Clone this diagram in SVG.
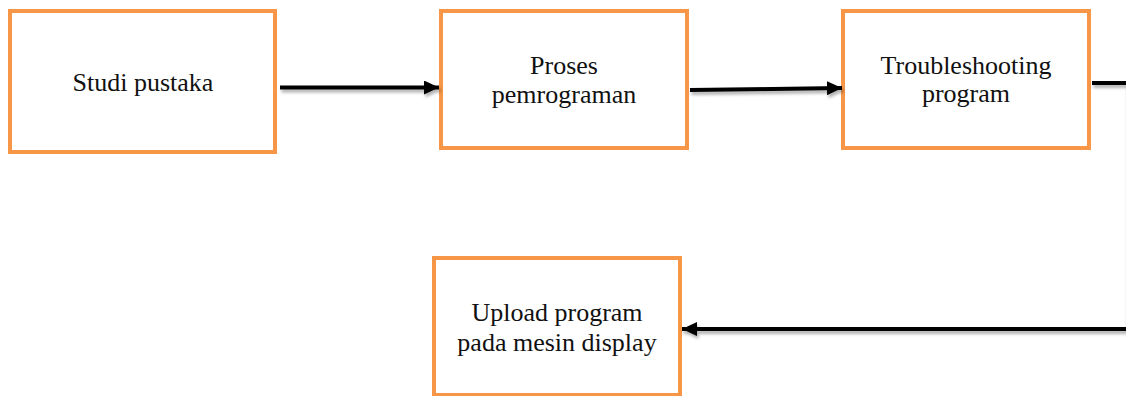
<svg xmlns="http://www.w3.org/2000/svg" width="1126" height="396" viewBox="0 0 1126 396">
<style>
.box{fill:#fff;stroke:#F79646;stroke-width:4}
.lbl{font-family:"Liberation Serif","Times New Roman",serif;font-size:26px;fill:#111;text-anchor:middle}
.con{fill:none;stroke:#000;stroke-width:4}
</style>
<defs>
<marker id="ah" markerUnits="userSpaceOnUse" markerWidth="16" markerHeight="14" refX="15" refY="7" orient="auto">
<path d="M0,0 L15,7 L0,14 Z" fill="#000"/>
</marker>
<filter id="sh" filterUnits="userSpaceOnUse" x="0" y="0" width="1126" height="396">
<feDropShadow dx="1.5" dy="3" stdDeviation="1.5" flood-color="#000" flood-opacity="0.3"/>
</filter>
</defs>
<g id="n1"><rect class="box" x="10" y="11" width="265" height="141"/><text class="lbl" x="143" y="91">Studi pustaka</text></g>
<g id="n2"><rect class="box" x="441" y="11" width="246" height="137"/><text class="lbl" x="564" y="74">Proses</text><text class="lbl" x="564" y="103">pemrograman</text></g>
<g id="n3"><rect class="box" x="843" y="11" width="246" height="137"/><text class="lbl" x="966" y="74">Troubleshooting</text><text class="lbl" x="966" y="102">program</text></g>
<g id="n4"><rect class="box" x="434" y="258" width="246" height="137"/><text class="lbl" x="557" y="321">Upload program</text><text class="lbl" x="557" y="351">pada mesin display</text></g>
<g id="connectors" filter="url(#sh)">
<path class="con" d="M280,87.5 L439,87.5" marker-end="url(#ah)"/>
<path class="con" d="M690,90 L842,88" marker-end="url(#ah)"/>
<path class="con" d="M1092,83 L1128,83 L1128,329 L682,329" marker-end="url(#ah)"/>
</g>
</svg>
